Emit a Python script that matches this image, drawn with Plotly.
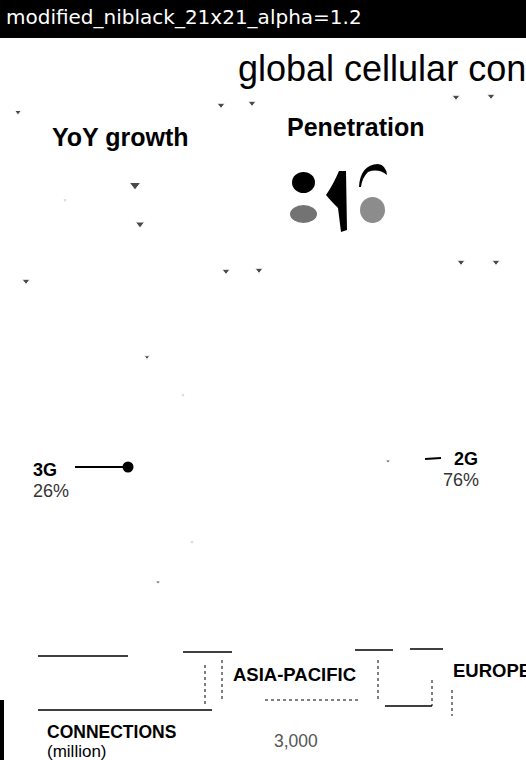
import plotly.graph_objects as go

# ---- data ----
tech = ["3G", "2G"]
penetration = [26, 76]
penetration_labels = ["26%", "76%"]
regions = ["ASIA-PACIFIC", "EUROPE"]
connections_tick = ["3,000"]

W, H = 526, 760
BOLD = "Liberation Sans"
fig = go.Figure()

# donut of penetration (grey fill washed out to white in the thresholded picture)
fig.add_trace(go.Pie(
    labels=tech, values=penetration, hole=0.68, sort=False, direction="clockwise",
    marker=dict(colors=["rgba(255,255,255,0)", "rgba(255,255,255,0)"],
                line=dict(color="rgba(255,255,255,0)", width=0)),
    textinfo="none", hoverinfo="label+percent", showlegend=False,
    domain=dict(x=[0.215, 0.82], y=[0.17, 0.595]),
))

# leader dot for 3G
fig.add_trace(go.Scatter(x=[128], y=[467], mode="markers",
                         marker=dict(color="black", size=11), showlegend=False,
                         hoverinfo="skip"))

# specks / box corners
sx = [18, 221, 252, 456, 491, 26, 226, 259, 461, 496, 135, 140, 65, 147, 183, 192, 158, 388]
sy = [112, 105, 103, 97, 96, 281, 271, 270, 262, 262, 185, 224, 200, 357, 395, 542, 582, 461]
ss = [6, 7, 7, 7, 7, 7, 7, 7, 7, 7, 10, 8, 3, 5, 3, 3, 4, 4]
fig.add_trace(go.Scatter(x=sx, y=sy, mode="markers",
                         marker=dict(color="black", size=ss, symbol="triangle-down"),
                         showlegend=False, hoverinfo="skip"))

shapes = []
# header bar
shapes.append(dict(type="rect", x0=0, x1=W, y0=0, y1=38, fillcolor="black", line_width=0, layer="below"))
# big "3G" remnant glyphs
shapes.append(dict(type="circle", x0=292, x1=315, y0=172, y1=193, fillcolor="black", line_width=0))
shapes.append(dict(type="path", path="M 339 171 L 346 171 L 347 230 L 341 232 L 338 208 Q 330 200 326 195 Q 333 185 339 171 Z",
                   fillcolor="black", line_width=0))
shapes.append(dict(type="path", path="M 359 187 Q 360 165 378 164 Q 386 165 387 175 Q 378 168 368 172 Q 362 178 361 187 Z",
                   fillcolor="black", line_width=0))
shapes.append(dict(type="circle", x0=290, x1=317, y0=205, y1=223, fillcolor="rgba(0,0,0,0.55)", line_width=0))
shapes.append(dict(type="circle", x0=360, x1=385, y0=197, y1=223, fillcolor="rgba(0,0,0,0.45)", line_width=0))
# leader lines
shapes.append(dict(type="line", x0=75, x1=128, y0=467, y1=467, line=dict(color="black", width=2)))
shapes.append(dict(type="line", x0=425, x1=441, y0=459, y1=458, line=dict(color="black", width=2)))
# bottom rules
for (x0, x1, y) in [(38, 96, 656), (96, 128, 656), (183, 232, 652), (355, 393, 650), (410, 443, 649),
                    (38, 212, 710), (385, 432, 706)]:
    shapes.append(dict(type="line", x0=x0, x1=x1, y0=y, y1=y, line=dict(color="black", width=1.5)))
for (x, y0, y1) in [(205, 665, 706), (222, 660, 700), (378, 660, 700), (432, 680, 706), (452, 690, 716)]:
    shapes.append(dict(type="line", x0=x, x1=x, y0=y0, y1=y1, line=dict(color="black", width=1, dash="dot")))
shapes.append(dict(type="line", x0=265, x1=360, y0=700, y1=700, line=dict(color="black", width=1, dash="dot")))
shapes.append(dict(type="rect", x0=0, x1=4, y0=700, y1=760, fillcolor="black", line_width=0))

ann = []
def txt(t, x, y, size, color="black", family=BOLD, weight="normal", xa="left"):
    ann.append(dict(text=t, x=x, y=y, xref="x", yref="y", xanchor=xa, yanchor="middle",
                    showarrow=False, font=dict(size=size, color=color, family=family, weight=weight)))

txt("modified_niblack_21x21_alpha=1.2", 4, 17, 20, color="white", family="DejaVu Sans")
txt("global cellular connections", 236, 68, 36, family="Liberation Sans")
txt("YoY growth", 50, 137, 25, weight="bold")
txt("Penetration", 285, 127, 25, weight="bold")
txt(tech[0], 31, 470, 18, weight="bold")
txt(penetration_labels[0], 31, 491, 18, color="#333")
txt(tech[1], 480, 459, 18, weight="bold", xa="right")
txt(penetration_labels[1], 481, 480, 18, color="#333", xa="right")
txt(regions[0], 231, 674, 18.5, weight="bold")
txt(regions[1], 451, 670, 18.5, weight="bold")
txt("CONNECTIONS", 45, 732, 17.5, weight="bold")
txt("(million)", 45, 751, 17)
txt(connections_tick[0], 272, 741, 17.5, color="#555")

fig.update_layout(
    width=W, height=H, margin=dict(l=0, r=0, t=0, b=0),
    paper_bgcolor="white", plot_bgcolor="white",
    xaxis=dict(range=[0, W], visible=False, fixedrange=True),
    yaxis=dict(range=[H, 0], visible=False, fixedrange=True),
    shapes=shapes, annotations=ann, showlegend=False,
)
fig.write_html("out.html")
